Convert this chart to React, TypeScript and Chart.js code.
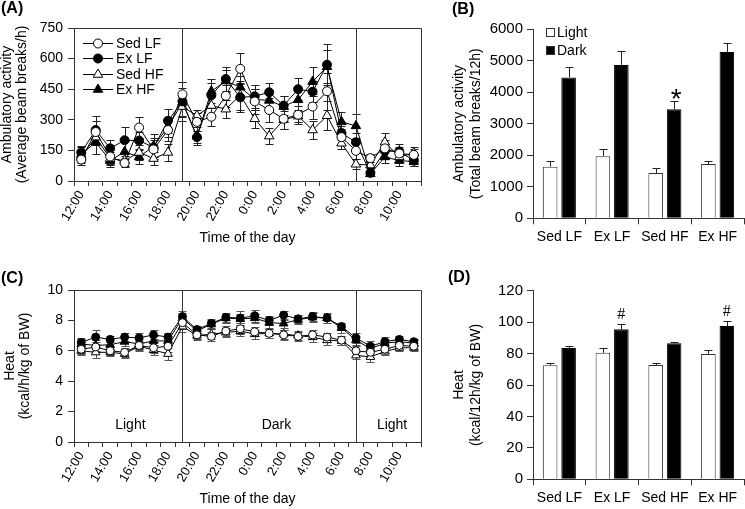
import React, { useEffect, useRef } from 'react';
import { Chart, registerables } from 'chart.js';

Chart.register(...registerables);

const FONT = "'Liberation Sans', Arial, Helvetica, sans-serif";
Chart.defaults.font.family = FONT;
Chart.defaults.color = '#000';

// ---------- Data ----------
const hourLabels = ['12:00', '13:00', '14:00', '15:00', '16:00', '17:00', '18:00', '19:00', '20:00', '21:00', '22:00', '23:00',
  '0:00', '1:00', '2:00', '3:00', '4:00', '5:00', '6:00', '7:00', '8:00', '9:00', '10:00', '11:00'];
const phaseLineAt = [7, 19]; // lights off 19:00, lights on 7:00 (category index)
const phaseLabels = ['Light', 'Dark', 'Light'];
const phaseLabelAt = [3.4, 13.5, 21.5];

const seriesNames = ['Sed LF', 'Ex LF', 'Sed HF', 'Ex HF'];

// (A) Ambulatory activity, average beam breaks/h
const sedLF_A = [105, 240, 120, 88, 262, 155, 250, 425, 290, 315, 418, 550, 390, 348, 305, 325, 365, 440, 215, 148, 112, 160, 135, 128];
const exLF_A = [140, 250, 160, 200, 198, 165, 295, 390, 215, 420, 500, 410, 415, 435, 370, 450, 438, 570, 235, 190, 40, 147, 145, 100];
const sedHF_A = [120, 215, 110, 100, 140, 110, 140, 365, 320, 370, 352, 420, 305, 220, 300, 318, 250, 320, 185, 82, 78, 190, 118, 137];
const exHF_A = [130, 190, 100, 143, 118, 170, 265, 385, 220, 440, 490, 460, 400, 395, 365, 398, 487, 560, 290, 270, 35, 118, 100, 95];
const errSedLF_A = [25, 55, 35, 20, 50, 45, 55, 60, 45, 45, 55, 75, 60, 60, 50, 45, 60, 90, 40, 40, 20, 40, 30, 30];
const errExLF_A = [30, 70, 40, 65, 40, 45, 60, 95, 30, 60, 60, 70, 55, 45, 45, 55, 50, 100, 35, 45, 10, 35, 35, 25];
const errSedHF_A = [30, 40, 30, 25, 35, 30, 40, 45, 30, 45, 45, 70, 45, 40, 45, 30, 45, 70, 30, 25, 15, 45, 25, 30];
const errExHF_A = [35, 60, 30, 55, 35, 60, 50, 70, 45, 60, 55, 55, 50, 50, 50, 55, 70, 80, 50, 60, 12, 30, 25, 20];
const yTicksA = { min: 0, max: 750, step: 150 };

// (C) Heat, kcal/h/kg of BW
const sedLF_C = [6.1, 6.25, 6.0, 5.9, 6.35, 6.2, 6.3, 7.85, 7.05, 6.95, 7.3, 7.45, 7.25, 7.15, 7.05, 6.95, 7.05, 6.9, 6.7, 6.0, 5.9, 6.1, 6.35, 6.3];
const exLF_C = [6.55, 6.9, 6.75, 6.9, 6.85, 7.05, 6.9, 8.25, 7.4, 7.8, 8.2, 8.15, 8.3, 8.0, 8.35, 8.1, 8.25, 8.15, 7.6, 6.85, 6.3, 6.6, 6.75, 6.6];
const sedHF_C = [6.0, 5.9, 5.9, 5.8, 6.3, 6.05, 5.8, 7.6, 7.0, 7.1, 7.2, 7.3, 7.1, 7.15, 7.1, 7.0, 6.9, 6.7, 6.65, 5.7, 5.6, 5.95, 6.2, 6.2];
const exHF_C = [6.45, 6.35, 6.4, 6.6, 6.45, 6.65, 6.65, 8.15, 7.3, 7.75, 8.15, 8.1, 8.15, 7.85, 7.8, 8.05, 8.2, 8.15, 7.5, 6.7, 6.15, 6.5, 6.6, 6.5];
const errSedLF_C = [0.3, 0.35, 0.25, 0.3, 0.3, 0.35, 0.35, 0.4, 0.3, 0.3, 0.3, 0.35, 0.3, 0.3, 0.35, 0.3, 0.3, 0.3, 0.3, 0.3, 0.3, 0.25, 0.2, 0.2];
const errExLF_C = [0.3, 0.45, 0.2, 0.25, 0.3, 0.3, 0.3, 0.4, 0.25, 0.3, 0.3, 0.45, 0.4, 0.3, 0.3, 0.25, 0.3, 0.35, 0.25, 0.35, 0.35, 0.3, 0.25, 0.2];
const errSedHF_C = [0.25, 0.35, 0.25, 0.3, 0.3, 0.3, 0.4, 0.35, 0.3, 0.35, 0.3, 0.3, 0.3, 0.3, 0.3, 0.3, 0.3, 0.3, 0.3, 0.25, 0.35, 0.25, 0.2, 0.2];
const errExHF_C = [0.3, 0.35, 0.3, 0.3, 0.35, 0.3, 0.35, 0.35, 0.3, 0.3, 0.3, 0.3, 0.3, 0.35, 0.3, 0.3, 0.3, 0.3, 0.3, 0.3, 0.3, 0.3, 0.25, 0.2];
const yTicksC = { min: 0, max: 10, step: 2 };

// (B) Ambulatory activity totals
const groupLabels = ['Sed LF', 'Ex LF', 'Sed HF', 'Ex HF'];
const lightB = [1640, 1970, 1440, 1720];
const lightBErr = [180, 240, 150, 110];
const darkB = [4470, 4870, 3460, 5280];
const darkBErr = [320, 450, 250, 290];
const marksB = ['', '', '*', ''];
const yTicksB = { min: 0, max: 6000, step: 1000 };

// (D) Heat totals
const lightD = [72.5, 80.5, 72.8, 79.8];
const lightDErr = [1.5, 2.8, 1.2, 2.2];
const darkD = [83.6, 95.5, 86.5, 97.5];
const darkDErr = [1.2, 3.3, 0.6, 3.0];
const marksD = ['', '#', '', '#'];
const yTicksD = { min: 0, max: 120, step: 20 };

// ---------- Plugins ----------
function drawMarker(ctx: CanvasRenderingContext2D, style: string, x: number, y: number, r: number, fill: string) {
  ctx.beginPath();
  if (style === 'circle') {
    ctx.arc(x, y, r, 0, Math.PI * 2);
  } else {
    for (let k = 0; k < 3; k++) {
      const a = (k * 2 * Math.PI) / 3;
      const px = x + Math.sin(a) * r;
      const py = y - Math.cos(a) * r;
      if (k === 0) ctx.moveTo(px, py); else ctx.lineTo(px, py);
    }
    ctx.closePath();
  }
  ctx.fillStyle = fill;
  ctx.fill();
  ctx.strokeStyle = '#000';
  ctx.lineWidth = 1;
  ctx.stroke();
}

function drawErrors(chart: any, opts: any) {
  const ctx = chart.ctx;
  const yScale = chart.scales.y;
  chart.data.datasets.forEach((ds: any, di: number) => {
    const errs = ds.errors;
    if (!errs) return;
    const meta = chart.getDatasetMeta(di);
    meta.data.forEach((el: any, i: number) => {
      const v = ds.data[i];
      const e = errs[i];
      const x = Math.round(el.x) + 0.5;
      const yTop = Math.round(yScale.getPixelForValue(v + e)) + 0.5;
      const yBot = opts.mode === 'both' ? Math.round(yScale.getPixelForValue(v - e)) + 0.5 : el.y;
      ctx.save();
      ctx.strokeStyle = opts.color;
      ctx.lineWidth = 1;
      ctx.beginPath();
      ctx.moveTo(x, yTop);
      ctx.lineTo(x, yBot);
      ctx.moveTo(x - opts.cap, yTop);
      ctx.lineTo(x + opts.cap, yTop);
      if (opts.mode === 'both') {
        ctx.moveTo(x - opts.cap, yBot);
        ctx.lineTo(x + opts.cap, yBot);
      }
      ctx.stroke();
      ctx.restore();
    });
  });
}

const errorBarPlugin = {
  id: 'errorBars',
  beforeDatasetsDraw(chart: any, _a: any, opts: any) {
    if (opts.mode === 'both') drawErrors(chart, opts);
  },
  afterDatasetsDraw(chart: any, _a: any, opts: any) {
    if (opts.mode === 'up') drawErrors(chart, opts);
  },
};

const framePlugin = {
  id: 'frame',
  beforeDatasetsDraw(chart: any, _a: any, opts: any) {
    const { ctx, chartArea: ca, scales } = chart;
    ctx.save();
    ctx.strokeStyle = '#333';
    ctx.lineWidth = 1;
    const l = Math.round(ca.left) + 0.5, t = Math.round(ca.top) + 0.5;
    const r = Math.round(ca.right) + 0.5, b = Math.round(ca.bottom) + 0.5;
    ctx.beginPath();
    ctx.moveTo(l, t); ctx.lineTo(r, t); ctx.lineTo(r, b);
    (opts.lines || []).forEach((v: number) => {
      const x = Math.round(scales.x.getPixelForValue(v)) + 0.5;
      ctx.moveTo(x, t); ctx.lineTo(x, b);
    });
    ctx.stroke();
    if (opts.labels) {
      ctx.fillStyle = '#000';
      ctx.font = `14px ${FONT}`;
      ctx.textAlign = 'center';
      ctx.textBaseline = 'middle';
      opts.labels.forEach((txt: string, i: number) => {
        ctx.fillText(txt, scales.x.getPixelForValue(opts.labelAt[i]), ca.bottom - 17);
      });
    }
    ctx.restore();
  },
  afterDraw(chart: any, _a: any, opts: any) {
    if (!opts.legend) return;
    const { ctx, chartArea: ca } = chart;
    ctx.save();
    chart.data.datasets.forEach((ds: any, i: number) => {
      const y = ca.top + 15 + i * 15.4;
      const x0 = ca.left + 9;
      ctx.strokeStyle = '#000';
      ctx.lineWidth = 1;
      ctx.beginPath();
      ctx.moveTo(x0, Math.round(y) + 0.5);
      ctx.lineTo(x0 + 30, Math.round(y) + 0.5);
      ctx.stroke();
      drawMarker(ctx, ds.pointStyle, x0 + 15, Math.round(y) + 0.5, ds.pointRadius, ds.pointBackgroundColor);
      ctx.fillStyle = '#000';
      ctx.font = `14px ${FONT}`;
      ctx.textAlign = 'left';
      ctx.textBaseline = 'middle';
      ctx.fillText(ds.label, x0 + 33, y + 1);
    });
    ctx.restore();
  },
};

const barExtrasPlugin = {
  id: 'barExtras',
  afterDraw(chart: any, _a: any, opts: any) {
    const { ctx, chartArea: ca, scales } = chart;
    ctx.save();
    if (opts.legend) {
      chart.data.datasets.forEach((ds: any, i: number) => {
        const y = ca.top + 3 + i * 18;
        ctx.fillStyle = ds.backgroundColor;
        ctx.fillRect(ca.left + 13, Math.round(y - 4), 8, 9);
        ctx.strokeStyle = '#333';
        ctx.lineWidth = 1;
        ctx.strokeRect(ca.left + 13.5, Math.round(y - 4) + 0.5, 8, 8);
        ctx.fillStyle = '#000';
        ctx.font = `14px ${FONT}`;
        ctx.textAlign = 'left';
        ctx.textBaseline = 'middle';
        ctx.fillText(ds.label, ca.left + 24, y + 1);
      });
    }
    const ds = chart.data.datasets[1];
    const meta = chart.getDatasetMeta(1);
    (opts.marks || []).forEach((m: string, i: number) => {
      if (!m) return;
      const cap = scales.y.getPixelForValue(ds.data[i] + ds.errors[i]);
      const x = meta.data[i].x;
      ctx.fillStyle = '#000';
      ctx.textAlign = 'center';
      ctx.textBaseline = 'alphabetic';
      if (m === '*') {
        ctx.font = `28px ${FONT}`;
        ctx.fillText(m, x + 2, cap + 7);
      } else {
        ctx.font = `16px 'Liberation Serif', 'Times New Roman', serif`;
        ctx.fillText(m, x, cap - 5);
      }
    });
    ctx.restore();
  },
};

// ---------- Configs ----------
function lineDs(label: string, data: number[], errors: number[], style: string, fill: string, r: number) {
  return {
    label, data, errors,
    borderColor: '#000', borderWidth: 1,
    pointStyle: style, pointRadius: r, pointBackgroundColor: fill,
    pointBorderColor: '#000', pointBorderWidth: 1,
    fill: false, tension: 0,
  };
}

const plainNumber = (v: any) => String(v);

function makeLineConfig(p: any) {
  return {
    type: 'line',
    data: {
      labels: hourLabels,
      datasets: [
        lineDs(seriesNames[0], p.s[0], p.e[0], 'circle', '#fff', p.rc),
        lineDs(seriesNames[1], p.s[1], p.e[1], 'circle', '#000', p.rc),
        lineDs(seriesNames[2], p.s[2], p.e[2], 'triangle', '#fff', p.rt),
        lineDs(seriesNames[3], p.s[3], p.e[3], 'triangle', '#000', p.rt),
      ],
    },
    options: {
      responsive: false,
      animation: false,
      events: [],
      layout: { padding: { top: p.padTop, right: 9, left: 0, bottom: 0 } },
      plugins: {
        legend: { display: false },
        tooltip: { enabled: false },
        errorBars: { mode: 'both', color: p.errColor, cap: 4 },
        frame: { lines: phaseLineAt, labels: p.phase ? phaseLabels : null, labelAt: phaseLabelAt, legend: p.legend },
      },
      scales: {
        x: {
          type: 'category',
          offset: true,
          grid: { offset: true, drawOnChartArea: false, tickLength: 5, color: '#333' },
          border: { color: '#333' },
          ticks: {
            autoSkip: false, minRotation: 60, maxRotation: 60, padding: 2,
            font: { size: 13 }, color: '#000',
            callback: (_v: any, i: number) => (i % 2 === 0 ? hourLabels[i] : ''),
          },
          title: { display: true, text: 'Time of the day', font: { size: 14 }, color: '#000', padding: { top: 0, bottom: 1 } },
          afterFit: (s: any) => { s.height = p.xHeight; },
        },
        y: {
          min: p.yt.min, max: p.yt.max,
          ticks: { stepSize: p.yt.step, padding: 5, font: { size: 14 }, color: '#000', callback: plainNumber },
          grid: { drawOnChartArea: false, tickLength: 6, color: '#333' },
          border: { color: '#333' },
          title: { display: true, text: p.title, font: { size: 14, lineHeight: p.titleLH }, color: '#000', padding: { top: p.titlePad, bottom: 0 } },
          afterFit: (s: any) => { s.width = 74; },
        },
      },
    },
    plugins: [errorBarPlugin, framePlugin],
  };
}

function makeBarConfig(p: any) {
  return {
    type: 'bar',
    data: {
      labels: groupLabels,
      datasets: [
        { label: 'Light', data: p.light, errors: p.lightErr, backgroundColor: '#fff', borderColor: '#333', borderWidth: 1, categoryPercentage: 0.7, barPercentage: 0.79 },
        { label: 'Dark', data: p.dark, errors: p.darkErr, backgroundColor: '#000', borderColor: '#000', borderWidth: 1, categoryPercentage: 0.7, barPercentage: 0.79 },
      ],
    },
    options: {
      responsive: false,
      animation: false,
      events: [],
      layout: { padding: { top: p.padTop, right: 1, left: 0, bottom: 0 } },
      plugins: {
        legend: { display: false },
        tooltip: { enabled: false },
        errorBars: { mode: 'up', color: '#222', cap: 4 },
        barExtras: { legend: p.legend, marks: p.marks },
      },
      scales: {
        x: {
          grid: { offset: true, drawOnChartArea: false, tickLength: 6, color: '#333' },
          border: { color: '#333' },
          ticks: { padding: 4, maxRotation: 0, font: { size: 14 }, color: '#000' },
          afterFit: (s: any) => { s.height = p.xHeight; },
        },
        y: {
          min: p.yt.min, max: p.yt.max,
          ticks: { stepSize: p.yt.step, padding: 4, font: { size: 15 }, color: '#000', callback: plainNumber },
          grid: { drawOnChartArea: false, tickLength: 6, color: '#333' },
          border: { color: '#333' },
          title: { display: true, text: p.title, font: { size: 14, lineHeight: 1.2 }, color: '#000', padding: { top: 10.6, bottom: 0 } },
          afterFit: (s: any) => { s.width = 93; },
        },
      },
    },
    plugins: [errorBarPlugin, barExtrasPlugin],
  };
}

const configA = () => makeLineConfig({
  s: [sedLF_A, exLF_A, sedHF_A, exHF_A], e: [errSedLF_A, errExLF_A, errSedHF_A, errExHF_A],
  rc: 4.5, rt: 5.5, padTop: 28, xHeight: 67, yt: yTicksA,
  title: ['Ambulatory activity', '(Average beam breaks/h)'], titleLH: 1.02, titlePad: 0.5,
  legend: true, phase: false, errColor: '#222',
});
const configC = () => makeLineConfig({
  s: [sedLF_C, exLF_C, sedHF_C, exHF_C], e: [errSedLF_C, errExLF_C, errSedHF_C, errExHF_C],
  rc: 4, rt: 5, padTop: 40, xHeight: 67, yt: yTicksC,
  title: ['Heat', '(kcal/h/kg of BW)'], titleLH: 1.07, titlePad: 2.5,
  legend: false, phase: true, errColor: '#555',
});
const configB = () => makeBarConfig({
  light: lightB, lightErr: lightBErr, dark: darkB, darkErr: darkBErr, marks: marksB,
  padTop: 29.3, xHeight: 31.7, yt: yTicksB, legend: true,
  title: ['Ambulatory activity', '(Total beam breaks/12h)'],
});
const configD = () => makeBarConfig({
  light: lightD, lightErr: lightDErr, dark: darkD, darkErr: darkDErr, marks: marksD,
  padTop: 40.7, xHeight: 29.7, yt: yTicksD, legend: false,
  title: ['Heat', '(kcal/12h/kg of BW)'],
});

function ChartCanvas({ left, top, width, height, make }: any) {
  const ref = useRef<HTMLCanvasElement | null>(null);
  useEffect(() => {
    if (!ref.current) return;
    const chart = new Chart(ref.current, make());
    return () => chart.destroy();
  }, [make]);
  return (
    <canvas ref={ref} width={width} height={height}
      style={{ position: 'absolute', left, top, width, height, display: 'block' }} />
  );
}

const panelLabelStyle: React.CSSProperties = {
  position: 'absolute', font: `bold 16px ${FONT}`, lineHeight: '16px', color: '#000', whiteSpace: 'nowrap',
};

export default function App() {
  return (
    <div style={{ position: 'fixed', left: 0, top: 0, width: 745, height: 509, background: '#fff', overflow: 'hidden' }}>
      <ChartCanvas left={0} top={0} width={430} height={248} make={configA} />
      <ChartCanvas left={440} top={0} width={305} height={250} make={configB} />
      <ChartCanvas left={0} top={250} width={430} height={259} make={configC} />
      <ChartCanvas left={440} top={250} width={305} height={259} make={configD} />
      <div style={{ ...panelLabelStyle, left: 1, top: 0 }}>(A)</div>
      <div style={{ ...panelLabelStyle, left: 452, top: 1 }}>(B)</div>
      <div style={{ ...panelLabelStyle, left: 1, top: 270 }}>(C)</div>
      <div style={{ ...panelLabelStyle, left: 448, top: 269 }}>(D)</div>
    </div>
  );
}
